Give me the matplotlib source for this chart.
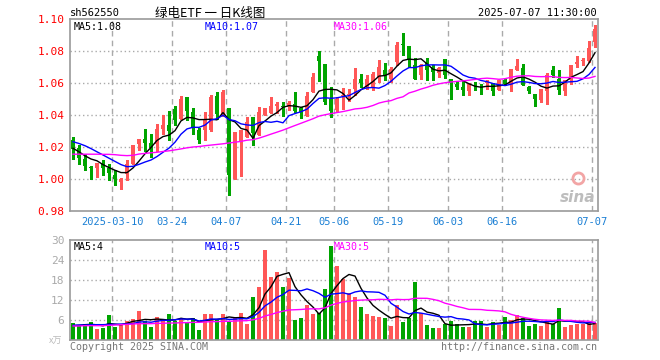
import numpy as np
import pandas as pd
import matplotlib
matplotlib.use('Agg')
import matplotlib.pyplot as plt

# daily OHLC (2025-02-27 .. 2025-07-07)
opens = [1.0245, 1.0195, 1.0127, 1.0077, 1.0066, 1.0102, 1.0069, 1.0027, 0.9979, 1.0033,
         1.0096, 1.0217, 1.0252, 1.0227, 1.0217, 1.0315, 1.0335, 1.0440, 1.0373, 1.0512,
         1.0419, 1.0306, 1.0306, 1.0306, 1.0519, 1.0394, 1.0442, 1.0000, 1.0233, 1.0265,
         1.0389, 1.0275, 1.0400, 1.0410, 1.0456, 1.0453, 1.0452, 1.0469, 1.0442, 1.0394,
         1.0546, 1.0769, 1.0720, 1.0500, 1.0434, 1.0520, 1.0525, 1.0564, 1.0627, 1.0575,
         1.0575, 1.0638, 1.0680, 1.0627, 1.0733, 1.0840, 1.0832, 1.0712, 1.0648, 1.0733,
         1.0701, 1.0665, 1.0749, 1.0627, 1.0596, 1.0575, 1.0547, 1.0578, 1.0578, 1.0598,
         1.0600, 1.0554, 1.0617, 1.0596, 1.0684, 1.0695, 1.0575, 1.0533, 1.0495, 1.0547,
         1.0680, 1.0627, 1.0547, 1.0617, 1.0718, 1.0738, 1.0737, 1.0859]
highs = [1.0261, 1.0210, 1.0158, 1.0080, 1.0098, 1.0117, 1.0096, 1.0054, 1.0005, 1.0117,
         1.0215, 1.0252, 1.0315, 1.0283, 1.0346, 1.0402, 1.0423, 1.0456, 1.0519, 1.0512,
         1.0444, 1.0318, 1.0421, 1.0525, 1.0544, 1.0556, 1.0442, 1.0296, 1.0306, 1.0390,
         1.0389, 1.0452, 1.0442, 1.0510, 1.0480, 1.0480, 1.0490, 1.0546, 1.0450, 1.0546,
         1.0660, 1.0800, 1.0720, 1.0577, 1.0515, 1.0568, 1.0560, 1.0691, 1.0659, 1.0650,
         1.0670, 1.0743, 1.0722, 1.0701, 1.0859, 1.0912, 1.0832, 1.0754, 1.0720, 1.0754,
         1.0712, 1.0700, 1.0749, 1.0627, 1.0610, 1.0617, 1.0600, 1.0606, 1.0596, 1.0617,
         1.0600, 1.0620, 1.0627, 1.0686, 1.0749, 1.0716, 1.0580, 1.0533, 1.0560, 1.0665,
         1.0707, 1.0680, 1.0617, 1.0712, 1.0771, 1.0754, 1.0863, 1.0964]
lows = [1.0127, 1.0096, 1.0054, 0.9998, 1.0013, 1.0027, 0.9992, 0.9965, 0.9940, 0.9992,
        1.0096, 1.0179, 1.0173, 1.0138, 1.0173, 1.0283, 1.0242, 1.0335, 1.0373, 1.0367,
        1.0283, 1.0225, 1.0244, 1.0300, 1.0375, 1.0394, 0.9900, 0.9998, 1.0019, 1.0265,
        1.0213, 1.0275, 1.0400, 1.0410, 1.0410, 1.0395, 1.0430, 1.0420, 1.0380, 1.0394,
        1.0546, 1.0611, 1.0470, 1.0389, 1.0420, 1.0440, 1.0490, 1.0522, 1.0575, 1.0560,
        1.0554, 1.0606, 1.0617, 1.0606, 1.0712, 1.0775, 1.0701, 1.0627, 1.0627, 1.0617,
        1.0617, 1.0640, 1.0630, 1.0501, 1.0560, 1.0522, 1.0522, 1.0554, 1.0533, 1.0564,
        1.0526, 1.0554, 1.0585, 1.0547, 1.0680, 1.0585, 1.0540, 1.0459, 1.0480, 1.0470,
        1.0638, 1.0533, 1.0526, 1.0596, 1.0701, 1.0712, 1.0733, 1.0827]
closes = [1.0189, 1.0131, 1.0081, 1.0070, 1.0098, 1.0069, 1.0038, 0.9998, 0.9998, 1.0096,
          1.0215, 1.0252, 1.0227, 1.0196, 1.0315, 1.0335, 1.0298, 1.0367, 1.0500, 1.0425,
          1.0319, 1.0245, 1.0369, 1.0510, 1.0406, 1.0546, 1.0025, 1.0296, 1.0306, 1.0358,
          1.0286, 1.0421, 1.0442, 1.0458, 1.0469, 1.0451, 1.0473, 1.0427, 1.0420, 1.0519,
          1.0640, 1.0740, 1.0480, 1.0425, 1.0500, 1.0526, 1.0532, 1.0627, 1.0602, 1.0627,
          1.0659, 1.0701, 1.0644, 1.0686, 1.0838, 1.0836, 1.0743, 1.0627, 1.0712, 1.0680,
          1.0669, 1.0691, 1.0648, 1.0602, 1.0575, 1.0554, 1.0596, 1.0572, 1.0572, 1.0604,
          1.0550, 1.0617, 1.0596, 1.0686, 1.0707, 1.0585, 1.0547, 1.0501, 1.0560, 1.0648,
          1.0648, 1.0554, 1.0617, 1.0712, 1.0733, 1.0741, 1.0821, 1.0939]
# volume in 万手
volumes = [5.1, 4.1, 4.8, 5.4, 3.4, 3.6, 7.5, 3.9, 4.4, 5.8,
           6.4, 8.7, 5.6, 3.9, 6.8, 5.8, 7.8, 5.8, 6.4, 5.4,
           6.6, 3.0, 7.7, 7.7, 6.0, 7.7, 5.5, 6.5, 8.0, 4.9,
           13.0, 16.0, 27.0, 19.0, 20.5, 16.0, 18.5, 6.0, 6.7, 10.5,
           7.7, 8.0, 15.3, 28.3, 22.2, 18.4, 14.1, 12.9, 9.9, 7.8,
           7.2, 6.9, 6.6, 4.2, 10.5, 5.4, 6.6, 17.4, 8.0, 4.5,
           3.6, 3.6, 4.8, 5.7, 4.8, 3.9, 3.9, 5.7, 5.7, 3.9,
           5.4, 4.5, 6.9, 6.0, 7.5, 6.6, 4.2, 4.8, 4.2, 5.7,
           4.8, 9.6, 3.9, 4.5, 4.8, 4.8, 5.4, 5.1]

# moving-average values at the left edge, where the window reaches back
# before the first visible day
ma5_head = [1.0192, 1.0170, 1.0145, 1.0125]
ma10_head = [1.0233, 1.0222, 1.0208, 1.0190, 1.0170, 1.0150, 1.0130, 1.0110, 1.0090]
ma30_head = [1.0155, 1.0155, 1.0155, 1.0155, 1.0155, 1.0154, 1.0154, 1.0152, 1.0148, 1.0146,
             1.0148, 1.0156, 1.0160, 1.0164, 1.0167, 1.0172, 1.0176, 1.0182, 1.0188, 1.0195,
             1.0200, 1.0203, 1.0208, 1.0212, 1.0216, 1.0220, 1.0225, 1.0230, 1.0235]
vma5_head = [4.3, 4.4, 4.6, 4.7]
vma10_head = [4.4, 4.5, 4.5, 4.6, 4.6, 4.6, 4.7, 4.7, 4.8]
vma30_head = [4.2, 4.2, 4.3, 4.3, 4.3, 4.3, 4.4, 4.5, 4.6, 4.7,
              4.8, 4.9, 4.9, 4.9, 5.0, 5.0, 5.1, 5.1, 5.2, 5.2,
              5.3, 5.3, 5.4, 5.5, 5.5, 5.6, 5.6, 5.7, 5.75]

tick_pos = [7, 17, 26, 36, 44, 53, 63, 72, 87]
tick_labels = ['2025-03-10', '03-24', '04-07', '04-21', '05-06',
               '05-19', '06-03', '06-16', '07-07']

RED = '#FF5757'
GREEN = '#00A400'
GRID = '#aaaaaa'
FRAME = '#9a9a9a'
MONO = 'DejaVu Sans Mono'
CJK = ['Noto Sans CJK SC', 'DejaVu Sans']


def moving_avg(values, n, head):
    s = pd.Series(values).rolling(n).mean().values
    s[:len(head)] = head
    return s


o = np.array(opens)
h = np.array(highs)
l = np.array(lows)
c = np.array(closes)
v = np.array(volumes)
x = np.arange(len(c))
cols = np.where(c >= o, RED, GREEN)

fig = plt.figure(figsize=(6.6, 3.6), dpi=100)
W, H = 660.0, 360.0
ax_p = fig.add_axes([70 / W, 1 - 211 / H, 528 / W, 192 / H])
ax_v = fig.add_axes([70 / W, 1 - 340 / H, 528 / W, 100 / H])

for ax in (ax_p, ax_v):
    for sp in ax.spines.values():
        sp.set_color(FRAME)
        sp.set_linewidth(1.2)
    ax.set_xlim(-0.5, len(c) - 0.5)
    for p in tick_pos:
        ax.axvline(p - 0.5, color=GRID, lw=1, ls=(0, (4, 3)), zorder=0)
    ax.tick_params(length=0)

# price panel
ax_p.set_ylim(0.98, 1.10)
for yv in [1.00, 1.02, 1.04, 1.06, 1.08]:
    ax_p.axhline(yv, color=GRID, lw=1, ls=(0, (1, 2)), zorder=0)
ax_p.vlines(x, l, h, colors=cols, lw=1, zorder=2, antialiased=False)
body = np.maximum(np.abs(c - o), 0.0005)
ax_p.bar(x, body, bottom=np.minimum(o, c), width=0.68, color=cols, lw=0,
         zorder=3, antialiased=False)

ax_p.plot(x, moving_avg(c, 5, ma5_head), color='black', lw=1, zorder=4)
ax_p.plot(x, moving_avg(c, 10, ma10_head), color='#0000FF', lw=1, zorder=4)
ax_p.plot(x, moving_avg(c, 30, ma30_head), color='#FF00FF', lw=1, zorder=4)

ax_p.set_yticks([0.98, 1.00, 1.02, 1.04, 1.06, 1.08, 1.10])
ax_p.set_yticklabels(['%.2f' % t for t in ax_p.get_yticks()],
                     color='#FF0000', family=MONO, fontsize=8)
ax_p.set_xticks([p - 0.5 for p in tick_pos])
ax_p.set_xticklabels(tick_labels, color='#1A7FD4', family=MONO, fontsize=7.5)
ax_p.tick_params(axis='x', pad=4)
ax_p.tick_params(axis='y', pad=4)

# sina watermark
ax_p.plot([0.962], [0.17], 'o', transform=ax_p.transAxes, ms=8, mfc='none',
          mec='#f2a5a5', mew=2, zorder=1)
ax_p.text(0.995, 0.03, 'sina', transform=ax_p.transAxes, ha='right', va='bottom',
          fontsize=11, color='#bdbdbd', style='italic', fontweight='bold', zorder=1)

# volume panel
ax_v.set_ylim(0, 30)
for yv in [6, 12, 18, 24]:
    ax_v.axhline(yv, color=GRID, lw=1, ls=(0, (1, 2)), zorder=0)
ax_v.bar(x, v, width=0.74, color=cols, lw=0, zorder=2, antialiased=False)
ax_v.plot(x, moving_avg(v, 5, vma5_head), color='black', lw=1, zorder=4)
ax_v.plot(x, moving_avg(v, 10, vma10_head), color='#0000FF', lw=1, zorder=4)
ax_v.plot(x, moving_avg(v, 30, vma30_head), color='#FF00FF', lw=1, zorder=4)
ax_v.set_yticks([6, 12, 18, 24, 30])
ax_v.set_yticklabels(['6', '12', '18', '24', '30'], color='#aaaaaa',
                     family=MONO, fontsize=8)
ax_v.tick_params(axis='y', pad=4)
ax_v.set_xticks([])


def ftext(px, py, s, **kw):
    fig.text(px / W, 1 - py / H, s, **kw)


ftext(70, 13, 'sh562550', ha='left', va='center', family=MONO, fontsize=7.5)
ftext(210, 13, '绿电ETF 一 日K线图', ha='center', va='center', family=CJK, fontsize=9)
ftext(597, 13, '2025-07-07 11:30:00', ha='right', va='center', family=MONO, fontsize=7.5)

ftext(74, 27, 'MA5:1.08', ha='left', va='center', family=MONO, fontsize=7.2, color='black')
ftext(205, 27, 'MA10:1.07', ha='left', va='center', family=MONO, fontsize=7.2, color='#0000FF')
ftext(334, 27, 'MA30:1.06', ha='left', va='center', family=MONO, fontsize=7.2, color='#FF00FF')

ftext(74, 247, 'MA5:4', ha='left', va='center', family=MONO, fontsize=7.2, color='black')
ftext(205, 247, 'MA10:5', ha='left', va='center', family=MONO, fontsize=7.2, color='#0000FF')
ftext(334, 247, 'MA30:5', ha='left', va='center', family=MONO, fontsize=7.2, color='#FF00FF')

ftext(56, 341, 'x万', ha='center', va='center', family=CJK,
      fontsize=6.5, color='#bbbbbb', style='italic')
ftext(70, 347, 'Copyright 2025 SINA.COM', ha='left', va='center', family=MONO,
      fontsize=7.2, color='#777777')
ftext(597, 347, 'http://finance.sina.com.cn', ha='right', va='center', family=MONO,
      fontsize=7.2, color='#777777')

fig.savefig('out.png', dpi=100, facecolor='white')
